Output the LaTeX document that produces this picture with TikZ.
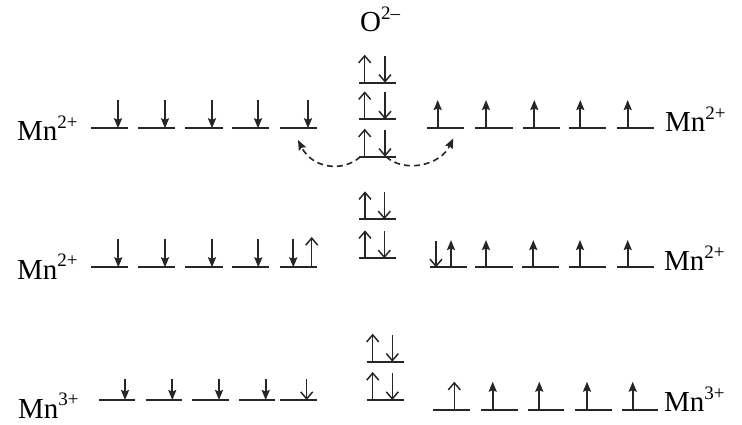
\documentclass[tikz,border=0pt]{standalone}
\usepackage{fontspec}
\setmainfont{Liberation Serif}
\usetikzlibrary{arrows.meta}
\newcommand{\chg}[1]{\raisebox{0.42em}{\fontsize{19}{22}\selectfont #1}}
\begin{document}
\begin{tikzpicture}[x=1pt,y=-1pt,
  level/.style={line width=2pt, draw=black!85},
  spinf/.style={line width=1.8pt, draw=black!85, -{Stealth[length=10pt,width=8pt,inset=1.5pt]}},
  spino/.style={line width=1.5pt, draw=black!85, -{Straight Barb[length=7pt,width=12pt]}},
  lab/.style={anchor=base west, inner sep=0pt, font=\fontsize{29}{34}\selectfont},
  hop/.style={line width=1.6pt, draw=black!85, dash pattern=on 6pt off 4pt, -{Stealth[length=10pt,width=8pt,inset=1.5pt]}}]
\useasboundingbox (0,0) rectangle (742,424);

% ---------- labels ----------
\node[lab] (o) at (360,31.7) {O\chg{2–}};
\node[lab] (l1) at (17,140.7) {Mn\chg{2+}};
\node[lab] (r1) at (665,131.7) {Mn\chg{2+}};
\node[lab] (l2) at (17,279) {Mn\chg{2+}};
\node[lab] (r2) at (664,270.7) {Mn\chg{2+}};
\node[lab] (l3) at (18,418) {Mn\chg{3+}};
\node[lab] (r3) at (664,411.7) {Mn\chg{3+}};

% ---------- row 1 ----------
\foreach \a/\b/\s [count=\i] in {91/128/118, 138/175/165, 185/223/212, 232/269/258, 280/317/308}{
  \draw[level] (\a,128.3) -- (\b,128.3);
  \draw[spinf] (\s,100) -- (\s,128.3);
}
\foreach \a/\b/\s in {427/464/437.7, 475/513/486, 523/560/534.3, 569/606/580.3, 617/654/627.7}{
  \draw[level] (\a,128.3) -- (\b,128.3);
  \draw[spinf] (\s,128.3) -- (\s,100);
}
\foreach \y in {82.7,119.3,156.7}{
  \draw[level] (359.3,\y) -- (396,\y);
  \draw[spino] (364.7,\y) -- (364.7,\y-28);
  \draw[spino] (385,\y-27) -- (385,\y);
}
\coordinate (ol) at (360.5,156.7);
\coordinate (or) at (386,156.7);
\coordinate (tl) at (298,140);
\coordinate (tr) at (453.3,138.3);
\draw[hop] (ol) .. controls (342,173) and (312,168) .. (tl);
\draw[hop] (or) .. controls (404,173) and (440,166) .. (tr);

% ---------- row 2 ----------
\foreach \a/\b/\s in {91/128/118.3, 138/175/165, 185/223/212, 232/269/258.3}{
  \draw[level] (\a,267.3) -- (\b,267.3);
  \draw[spinf] (\s,239) -- (\s,267.3);
}
\draw[level] (280,267.3) -- (316.7,267.3);
\draw[spinf] (293.3,239) -- (293.3,267.3);
\draw[spino] (311.7,267.3) -- (311.7,237);
\foreach \y in {219.3,258.3}{
  \draw[level] (359.3,\y) -- (396,\y);
  \draw[spino] (365,\y) -- (365,\y-28);
  \draw[spino] (384.3,\y-27) -- (384.3,\y);
}
\draw[level] (430.3,267.3) -- (467,267.3);
\draw[spino] (436,241) -- (436,267.3);
\draw[spinf] (451,267.3) -- (451,240);
\foreach \a/\b/\s in {475.3/512.7/486, 522/559.3/533.3, 568.7/606/580, 617/653.7/627.7}{
  \draw[level] (\a,267.3) -- (\b,267.3);
  \draw[spinf] (\s,267.3) -- (\s,240);
}

% ---------- row 3 ----------
\foreach \a/\b/\s in {99/135/125, 145.7/182.3/172.3, 192.3/229.3/219, 239/275.3/265.7}{
  \draw[level] (\a,400) -- (\b,400);
  \draw[spinf] (\s,379) -- (\s,400);
}
\draw[level] (280,400) -- (316.7,400);
\draw[spino] (306.7,379) -- (306.7,400);
\foreach \y in {361.7,400}{
  \draw[level] (366.7,\y) -- (404,\y);
  \draw[spino] (372.7,\y) -- (372.7,\y-28);
  \draw[spino] (392.3,\y-27) -- (392.3,\y);
}
\draw[level] (433.3,410) -- (470,410);
\draw[spino] (454.3,410) -- (454.3,381.7);
\foreach \a/\b/\s in {481/517.7/492.7, 527.7/564.3/539.3, 575.3/611.7/587, 621.7/658.3/632.7}{
  \draw[level] (\a,410) -- (\b,410);
  \draw[spinf] (\s,410) -- (\s,381.7);
}
\end{tikzpicture}
\end{document}
